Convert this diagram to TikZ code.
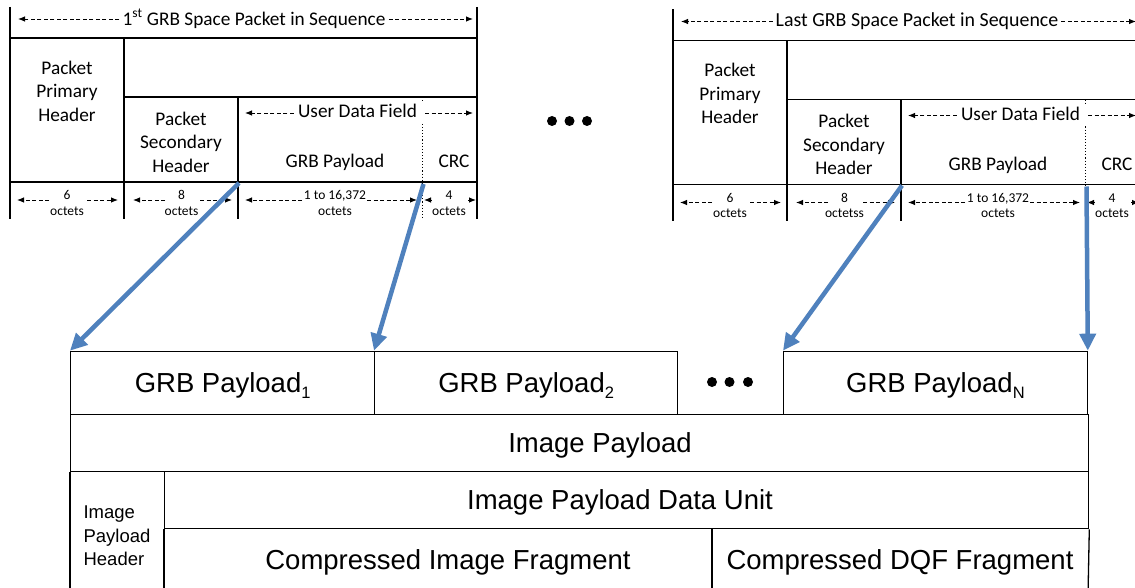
\documentclass[tikz,border=0pt]{standalone}
\usepackage{fontspec}
\setmainfont{Liberation Sans}
\newfontfamily\calfont{Carlito}
\usetikzlibrary{arrows.meta}
\definecolor{arrblue}{HTML}{4F81BD}
\tikzset{
 frame/.style={line width=1.3pt, draw=black},
 dotline/.style={line width=1.1pt, dotted},
 dimarrow/.style={line width=0.9pt, dash pattern=on 4pt off 2.5pt, -{Latex[length=7pt,width=5.5pt]}},
 toptxt/.style={font=\calfont\fontsize{19.3}{23.5}\selectfont, inner sep=0pt, align=center},
 smalltxt/.style={font=\calfont\fontsize{13.5}{15.5}\selectfont, inner sep=0pt, align=center},
 bigtxt/.style={font=\fontsize{27.5}{31}\selectfont, inner sep=0pt, text height=19.7pt, text depth=0pt},
 midtxt/.style={font=\fontsize{18.5}{23.5}\selectfont, inner sep=0pt, align=left},
 cellbox/.style={frame, rectangle, inner sep=0pt, anchor=north west, font=\fontsize{27.5}{31}\selectfont, text height=19.7pt, text depth=0pt},
 bluearrow/.style={draw=arrblue, line width=4.5pt, -{Triangle[length=17pt,width=16pt]}},
 bigdot/.style={fill=black, circle, inner sep=0pt, minimum size=10pt},
}
\newcommand\sub[1]{\raisebox{-6pt}{\fontsize{16.5}{16.5}\selectfont #1}}
\newcommand\gpacket[6]{%
\begin{scope}[shift={(#2,#3)}]
 \draw[frame] (10,7) -- (10,219);
 \draw[frame] (477,7) -- (477,219);
 \draw[frame] (10,38) -- (477,38);
 \draw[frame] (124,38) -- (124,219);
 \draw[frame] (124,97) -- (477,97);
 \draw[frame] (238,97) -- (238,219);
 \draw[frame] (10,182) -- (477,182);
 \draw[dotline] (422.5,97) -- (422.5,102);
 \draw[dotline] (422.5,124) -- (422.5,219);
 \coordinate (#1sh) at (239,183);
 \coordinate (#1crc) at (423.5,184);
 \coordinate (#1tl) at (18,19);
 \coordinate (#1tr) at (473,19);
 \node[toptxt, font=\calfont\fontsize{#6}{23.5}\selectfont] (#1title) at (254,19) {#4};
 \draw[dimarrow] ([xshift=-3pt]#1title.west) -- (#1tl);
 \draw[dimarrow] ([xshift=3pt]#1title.east) -- (#1tr);
 \node[toptxt] (#1ph) at (67,91) {Packet\\Primary\\Header};
 \node[toptxt] (#1sh2) at (181,142) {Packet\\Secondary\\Header};
 \node[toptxt, anchor=base] (#1udf) at (357.5,118) {User Data Field};
 \coordinate (#1ul) at (245,113);
 \coordinate (#1ur) at (473,113);
 \draw[dimarrow] ([xshift=-4pt]#1udf.west |- #1ul) -- (#1ul);
 \draw[dimarrow] (425,113) -- (#1ur);
 \node[toptxt, anchor=base] (#1gp) at (335,168) {GRB Payload};
 \node[toptxt, anchor=base] (#1crctxt) at (454,168) {CRC};
 \node[smalltxt] (#1s1) at (67,203) {6\\octets};
 \node[smalltxt] (#1s2) at (181.5,203) {8\\#5};
 \node[smalltxt] (#1s3) at (335,203) {1 to 16,372\\octets};
 \node[smalltxt] (#1s4) at (449,203) {4\\octets};
 \draw[dimarrow] (49,200) -- (17,200);
 \draw[dimarrow] (87,200) -- (118,200);
 \draw[dimarrow] (165,200) -- (133,200);
 \draw[dimarrow] (200,200) -- (232,200);
 \draw[dimarrow] (302,200) -- (245,200);
 \draw[dimarrow] (367,200) -- (417,200);
 \draw[dimarrow] (431,200) -- (424,200);
 \draw[dimarrow] (468,200) -- (476,200);
\end{scope}}
\begin{document}
\begin{tikzpicture}[x=1pt,y=-1pt]
\useasboundingbox (0,0) rectangle (1135,588);
\clip (0,0) rectangle (1135,588);
\fill[white] (0,0) rectangle (1135,588);
\gpacket{p}{0}{0}{1\textsuperscript{st} GRB Space Packet in Sequence}{octets}{19.3}
\gpacket{q}{663}{2.5}{Last GRB Space Packet in Sequence}{octetss}{19.9}
% dots top
\node[bigdot] (td1) at (552,121) {};
\node[bigdot] (td2) at (569.5,121) {};
\node[bigdot] (td3) at (587,121) {};
% bottom structure
\node[cellbox, minimum width=304pt, minimum height=63.3pt] (gp1) at (70,350.7) {GRB Payload\sub{1}};
\node[cellbox, minimum width=303pt, minimum height=63.3pt] (gp2) at (374,350.7) {GRB Payload\sub{2}};
\node[cellbox, minimum width=303.5pt, minimum height=63.3pt] (gpn) at (783,350.7) {GRB Payload\sub{N}};
\node[bigdot] (bd1) at (712,382) {};
\node[bigdot] (bd2) at (729.5,382) {};
\node[bigdot] (bd3) at (748,382) {};
\node[cellbox, minimum width=1018pt, minimum height=57pt] (ip) at (70,414) {};
\node[bigtxt] (iptxt) at (600,442.5) {Image Payload};
\node[cellbox, minimum width=924pt, minimum height=57pt] (ipdu) at (164,471) {};
\node[bigtxt] (ipdutxt) at (620,499.5) {Image Payload Data Unit};
\draw[frame] (ip.south west) -- (70,595);
\draw[frame] (ipdu.south west) -- (164,595);
\draw[frame] (712,528) -- (712,595);
\draw[frame] (ipdu.south east) -- (1088,595);
\node[midtxt] (iph) at (117,536) {Image\\Payload\\Header};
\node[bigtxt] (cif) at (448,560) {Compressed Image Fragment};
\node[bigtxt] (cdf) at (900,560) {Compressed DQF Fragment};
% blue arrows
\draw[bluearrow] (psh) -- (gp1.north west);
\draw[bluearrow] (pcrc) -- (gp2.north west);
\draw[bluearrow] (qsh) -- (gpn.north west);
\draw[bluearrow] (qcrc) -- (gpn.north east);
\end{tikzpicture}
\end{document}
